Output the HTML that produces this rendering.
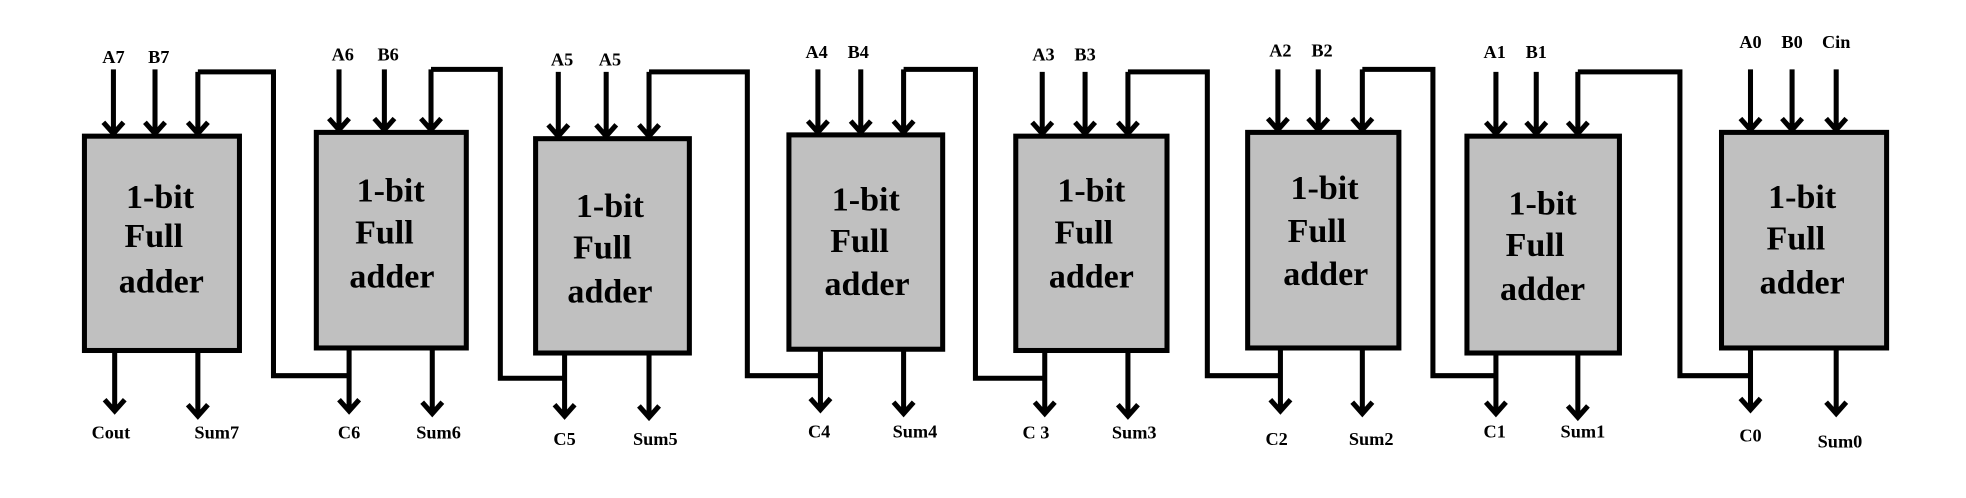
<!DOCTYPE html>
<html><head><meta charset="utf-8"><style>
html,body{margin:0;padding:0;background:#fff;}
svg{display:block;}
text{font-family:"Liberation Serif",serif;font-weight:bold;fill:#000;}
.s{font-size:14.5px;text-anchor:middle;}
.b{font-size:27px;text-anchor:middle;}
</style></head><body>
<svg width="1966" height="498" viewBox="0 0 1560 395" preserveAspectRatio="none" xmlns="http://www.w3.org/2000/svg">
<g fill="#c0c0c0" stroke="#000" stroke-width="4">
<rect x="67" y="108" width="123" height="170"/>
<rect x="251" y="105" width="119" height="171"/>
<rect x="425" y="110" width="122" height="170"/>
<rect x="626" y="107" width="122" height="170"/>
<rect x="806" y="108" width="120" height="170"/>
<rect x="990" y="105" width="120" height="171"/>
<rect x="1164" y="108" width="121" height="172"/>
<rect x="1366" y="105" width="131" height="171"/>
</g>
<g fill="none" stroke="#000" stroke-width="4">
<path d="M90 55V106M82 97l8 9 8-9M123 55V106M115 97l8 9 8-9M157 57V106M149 97l8 9 8-9M157 57H217V298H277"/>
<path d="M269 55V103M261 94l8 9 8-9M305 55V103M297 94l8 9 8-9M342 55V103M334 94l8 9 8-9M342 55H397V300H448"/>
<path d="M443 57V108M435 99l8 9 8-9M481 57V108M473 99l8 9 8-9M515 57V108M507 99l8 9 8-9M515 57H593V298H651"/>
<path d="M649 55V105M641 96l8 9 8-9M683 55V105M675 96l8 9 8-9M717 55V105M709 96l8 9 8-9M717 55H774V300H829"/>
<path d="M827 57V106M819 97l8 9 8-9M861 57V106M853 97l8 9 8-9M895 57V106M887 97l8 9 8-9M895 57H958V298H1016"/>
<path d="M1014 55V103M1006 94l8 9 8-9M1046 55V103M1038 94l8 9 8-9M1081 55V103M1073 94l8 9 8-9M1081 55H1137V298H1187"/>
<path d="M1187 57V106M1179 97l8 9 8-9M1219 57V106M1211 97l8 9 8-9M1252 57V106M1244 97l8 9 8-9M1252 57H1333V298H1389"/>
<path d="M1389 55V103M1381 94l8 9 8-9M1422 55V103M1414 94l8 9 8-9M1457 55V103M1449 94l8 9 8-9"/>
<path d="M91 278V326M83 317l8 9 8-9M157 278V330M149 321l8 9 8-9"/>
<path d="M277 276V326M269 317l8 9 8-9M343 276V328M335 319l8 9 8-9"/>
<path d="M448 280V330M440 321l8 9 8-9M515 280V331M507 322l8 9 8-9"/>
<path d="M651 277V325M643 316l8 9 8-9M717 277V328M709 319l8 9 8-9"/>
<path d="M829 278V328M821 319l8 9 8-9M895 278V330M887 321l8 9 8-9"/>
<path d="M1016 276V326M1008 317l8 9 8-9M1081 276V328M1073 319l8 9 8-9"/>
<path d="M1187 280V328M1179 319l8 9 8-9M1252 280V331M1244 322l8 9 8-9"/>
<path d="M1389 276V325M1381 316l8 9 8-9M1457 276V328M1449 319l8 9 8-9"/>
</g>
<g>
<text x="127" y="165" class="b">1-bit</text><text x="122" y="196" class="b">Full</text><text x="128" y="232" class="b">adder</text>
<text x="310" y="160" class="b">1-bit</text><text x="305" y="193" class="b">Full</text><text x="311" y="228" class="b">adder</text>
<text x="484" y="172" class="b">1-bit</text><text x="478" y="205" class="b">Full</text><text x="484" y="240" class="b">adder</text>
<text x="687" y="167" class="b">1-bit</text><text x="682" y="200" class="b">Full</text><text x="688" y="234" class="b">adder</text>
<text x="866" y="160" class="b">1-bit</text><text x="860" y="193" class="b">Full</text><text x="866" y="228" class="b">adder</text>
<text x="1051" y="158" class="b">1-bit</text><text x="1045" y="192" class="b">Full</text><text x="1052" y="226" class="b">adder</text>
<text x="1224" y="170" class="b">1-bit</text><text x="1218" y="203" class="b">Full</text><text x="1224" y="238" class="b">adder</text>
<text x="1430" y="165" class="b">1-bit</text><text x="1425" y="198" class="b">Full</text><text x="1430" y="233" class="b">adder</text>
</g>
<g>
<text x="90" y="50" class="s">A7</text><text x="126" y="50" class="s">B7</text>
<text x="272" y="48" class="s">A6</text><text x="308" y="48" class="s">B6</text>
<text x="446" y="52" class="s">A5</text><text x="484" y="52" class="s">A5</text>
<text x="648" y="46" class="s">A4</text><text x="681" y="46" class="s">B4</text>
<text x="828" y="48" class="s">A3</text><text x="861" y="48" class="s">B3</text>
<text x="1016" y="45" class="s">A2</text><text x="1049" y="45" class="s">B2</text>
<text x="1186" y="46" class="s">A1</text><text x="1219" y="46" class="s">B1</text>
<text x="1389" y="38" class="s">A0</text><text x="1422" y="38" class="s">B0</text><text x="1457" y="38" class="s">Cin</text>
<text x="88" y="348" class="s">Cout</text><text x="172" y="348" class="s">Sum7</text>
<text x="277" y="348" class="s">C6</text><text x="348" y="348" class="s">Sum6</text>
<text x="448" y="353" class="s">C5</text><text x="520" y="353" class="s">Sum5</text>
<text x="650" y="347" class="s">C4</text><text x="726" y="347" class="s">Sum4</text>
<text x="822" y="348" class="s">C 3</text><text x="900" y="348" class="s">Sum3</text>
<text x="1013" y="353" class="s">C2</text><text x="1088" y="353" class="s">Sum2</text>
<text x="1186" y="347" class="s">C1</text><text x="1256" y="347" class="s">Sum1</text>
<text x="1389" y="350" class="s">C0</text><text x="1460" y="355" class="s">Sum0</text>
</g>
</svg>
</body></html>
